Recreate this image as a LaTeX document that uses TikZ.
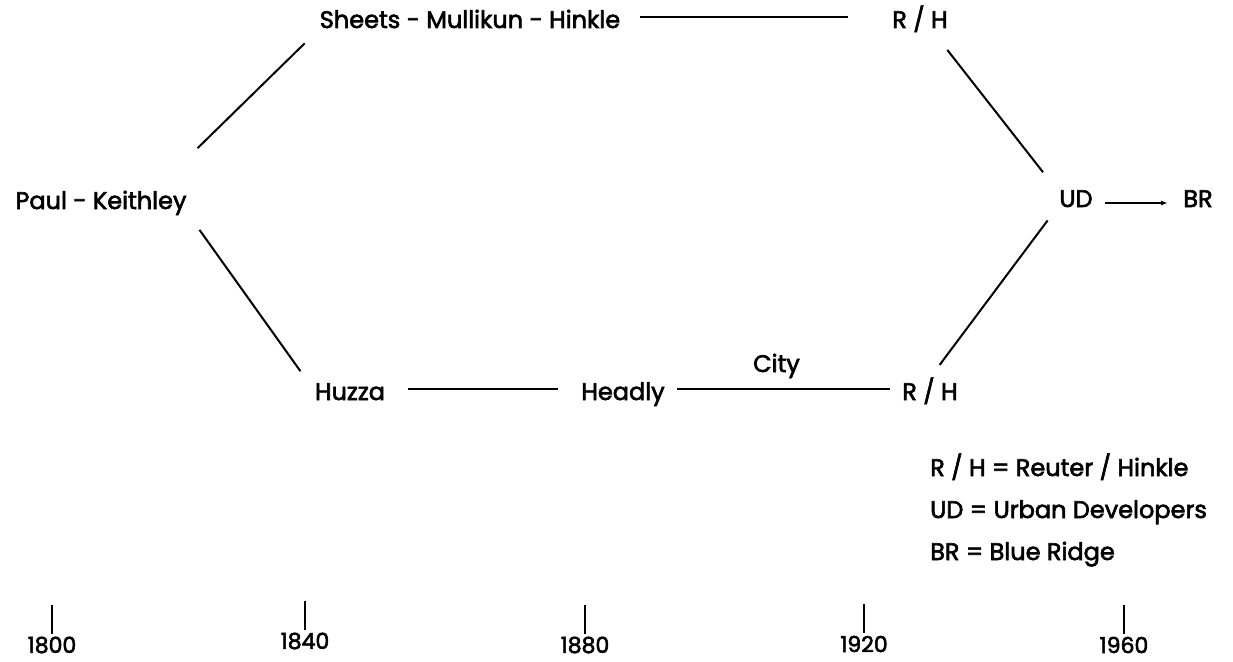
\documentclass[tikz,border=0pt]{standalone}
\usepackage{fontspec}
\setmainfont{Poppins}[FakeBold=2.5]
\usepackage{tikz}
\usetikzlibrary{arrows.meta}

\begin{document}
\begin{tikzpicture}[x=1pt, y=-1pt,
    firm/.style={inner sep=0pt, text height=18pt, text depth=6pt, font=\fontsize{24}{28}\selectfont},
    link/.style={line width=2pt},
    yearlbl/.style={inner sep=0pt, font=\fontsize{22}{26}\selectfont}]

        \useasboundingbox (0,0) rectangle (1233,661);

        \node[firm]         (paul) at (101, 203)       {Paul - Keithley};
        \node[firm]         (sheets) at (470, 22)      {Sheets - Mullikun - Hinkle};
        \node[firm]         (rhtop) at (920, 22)       {R / H};
        \node[firm]         (ud) at (1076, 201)        {UD};
        \node[firm]         (br) at (1198, 201)        {BR};
        \node[firm]         (huzza) at (350, 394)      {Huzza};
        \node[firm]         (headly) at (623, 394)     {Headly};
        \node[firm]         (rhbot) at (930, 394)      {R / H};

        \draw ([xshift=53pt]paul.north) edge[link, shorten <=61pt, shorten >=13pt]  ([xshift=-156pt]sheets.south);
        \draw ([yshift=5pt]sheets.center) edge[link, shorten <=170pt, shorten >=72pt]  ([yshift=5pt]rhtop.center);
        \draw ([xshift=15pt]rhtop.south) edge[link, shorten <=20pt, shorten >=21pt]  ([xshift=-20pt]ud.north);
        \draw ([yshift=-2pt]ud.center) edge[link, -{Latex[length=7pt,width=5pt]}, shorten <=29pt, shorten >=30pt]  ([yshift=-2pt]br.center);

        \draw ([xshift=88pt]paul.south) edge[link, shorten <=18pt, shorten >=13pt]  ([xshift=-42pt]huzza.north);
        \draw ([yshift=5pt]huzza.center) edge[link, shorten <=58pt, shorten >=65pt]  ([yshift=5pt]headly.center);
        \draw ([yshift=5pt]headly.center) edge[link, shorten <=54pt, shorten >=40pt]
              node[firm, above=10pt] (city) {City}  ([yshift=5pt]rhbot.center);
        \draw ([xshift=-3pt]rhbot.north) edge[link, shorten <=21pt, shorten >=9pt]  ([xshift=-23pt]ud.south);

        % key
        \node[firm, anchor=west]   (keyrh) at (930, 470)   {R / H = Reuter / Hinkle};
        \node[firm, anchor=west]   (keyud) at (930, 512)   {UD = Urban Developers};
        \node[firm, anchor=west]   (keybr) at (930, 554)   {BR = Blue Ridge};

        % time line
        \foreach \yr/\x/\y in {1800/52/645, 1840/305/641, 1880/585/645, 1920/864/644, 1960/1124/645}{
          \node[yearlbl]    (y\yr) at (\x, \y)       {\yr};
          \draw[link] ([yshift=3pt]y\yr.north) -- ++(0,-29);
        }
      \end{tikzpicture}
\end{document}
